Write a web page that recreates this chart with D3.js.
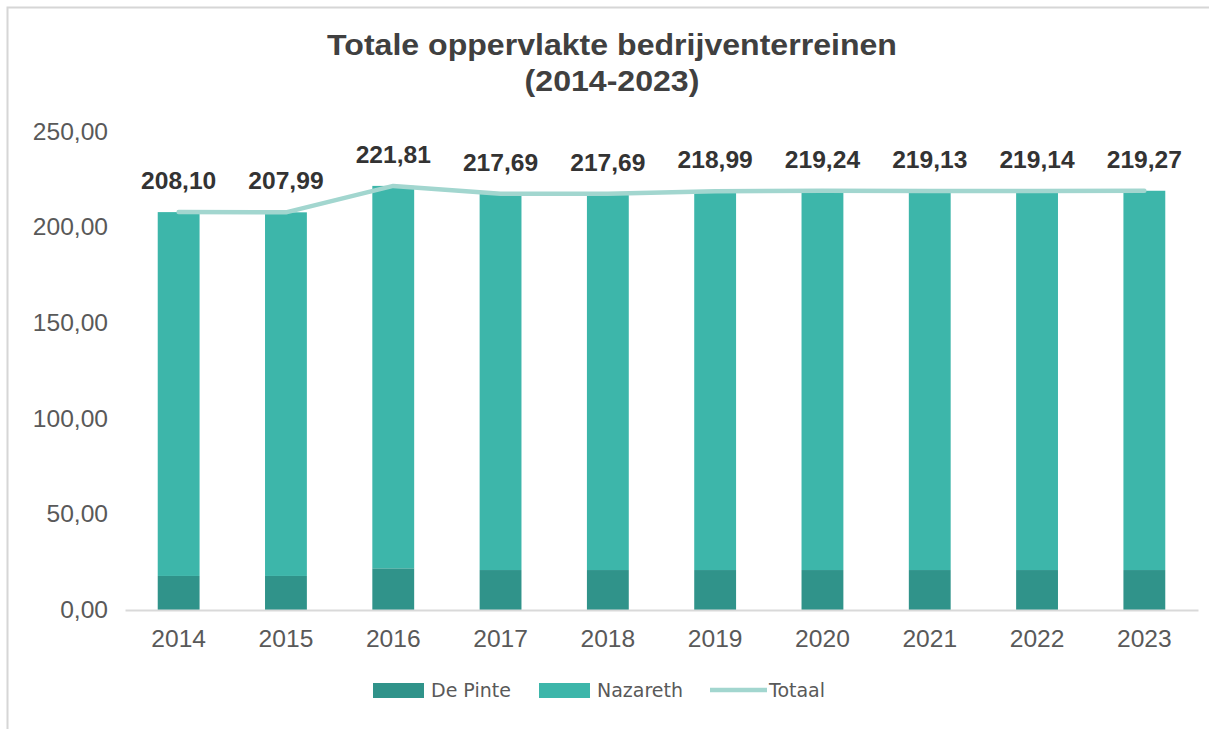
<!DOCTYPE html>
<html>
<head>
<meta charset="utf-8">
<script src="https://cdn.jsdelivr.net/npm/d3@7"></script>
<style>
  html, body { margin: 0; padding: 0; background: #fff; }
  svg { display: block; font-family: "Liberation Sans", Arial, sans-serif; }
</style>
</head>
<body>
<div id="chart"></div>
<script>
(function () {
  'use strict';

  // ── Data ──────────────────────────────────────────────────────────────────
  const YEARS = ['2014', '2015', '2016', '2017', '2018', '2019', '2020', '2021', '2022', '2023'];
  const TOTAAL = [208.10, 207.99, 221.81, 217.69, 217.69, 218.99, 219.24, 219.13, 219.14, 219.27];
  const DE_PINTE = [17.8, 17.8, 21.8, 20.9, 20.9, 20.9, 20.9, 20.9, 20.9, 20.9];
  const NAZARETH = TOTAAL.map((t, i) => +(t - DE_PINTE[i]).toFixed(2));
  const Y_TICKS = [0, 50, 100, 150, 200, 250];

  const COLORS = { pinte: '#30938a', nazareth: '#3db6aa', totaal: '#a2d6cf' };
  const fmt = v => v.toFixed(2).replace('.', ',');

  const width = 1209;
  const height = 729;
  const margin = { top: 132, right: 11, bottom: 119, left: 125 };

  const svg = d3.select('#chart')
    .append('svg')
    .attr('width', width)
    .attr('height', height)
    .attr('viewBox', `0 0 ${width} ${height}`);

  // frame (top + left edges of the pasted chart)
  svg.append('path')
    .attr('d', `M7.5,${height} V7.5 H${width}`)
    .attr('fill', 'none')
    .attr('stroke', '#d6d6d6')
    .attr('stroke-width', 2);

  // ── Title ─────────────────────────────────────────────────────────────────
  // the source picture is a bit stretched sideways, hence the scale
  [['Totale oppervlakte bedrijventerreinen', 55], ['(2014-2023)', 91]].forEach(([t, ty]) => {
    svg.append('text')
      .attr('transform', `translate(612,${ty}) scale(1.07,1)`)
      .attr('text-anchor', 'middle')
      .attr('font-size', 30)
      .attr('font-weight', 700)
      .attr('fill', '#404040')
      .text(t);
  });

  // ── Scales ────────────────────────────────────────────────────────────────
  const x = d3.scaleBand()
    .domain(YEARS)
    .range([margin.left, width - margin.right])
    .paddingInner(0.61)
    .paddingOuter(0.305);

  const y = d3.scaleLinear()
    .domain([0, 250])
    .range([height - margin.bottom, margin.top]);

  // Y axis labels
  svg.append('g')
    .attr('transform', `translate(108,0)`)
    .call(d3.axisLeft(y).tickValues(Y_TICKS).tickSize(0).tickPadding(0).tickFormat(fmt))
    .call(ax => ax.select('.domain').remove())
    .call(ax => ax.selectAll('text')
      .attr('font-size', 23)
      .attr('font-family', '"Liberation Sans", Arial, sans-serif')
      .attr('transform', 'scale(1.07,1)')
      .attr('fill', '#595959'));

  // ── Bars ──────────────────────────────────────────────────────────────────
  const bw = x.bandwidth();
  svg.append('g').selectAll('rect')
    .data(YEARS)
    .join('rect')
    .attr('x', d => x(d))
    .attr('y', (d, i) => y(DE_PINTE[i]))
    .attr('width', bw)
    .attr('height', (d, i) => y(0) - y(DE_PINTE[i]))
    .attr('fill', COLORS.pinte);

  svg.append('g').selectAll('rect')
    .data(YEARS)
    .join('rect')
    .attr('x', d => x(d))
    .attr('y', (d, i) => y(DE_PINTE[i] + NAZARETH[i]))
    .attr('width', bw)
    .attr('height', (d, i) => y(DE_PINTE[i]) - y(DE_PINTE[i] + NAZARETH[i]))
    .attr('fill', COLORS.nazareth);

  // X axis
  svg.append('g')
    .attr('transform', `translate(0,${y(0)})`)
    .call(d3.axisBottom(x).tickSize(0).tickPadding(21))
    .call(ax => ax.select('.domain').attr('stroke', '#d9d9d9').attr('stroke-width', 2))
    .call(ax => ax.selectAll('text')
      .attr('font-size', 23)
      .attr('font-family', '"Liberation Sans", Arial, sans-serif')
      .attr('transform', 'scale(1.07,1)')
      .attr('fill', '#595959'));

  // ── Totaal line ───────────────────────────────────────────────────────────
  const line = d3.line()
    .x((d, i) => x(YEARS[i]) + bw / 2)
    .y(d => y(d));

  svg.append('path')
    .datum(TOTAAL)
    .attr('fill', 'none')
    .attr('stroke', COLORS.totaal)
    .attr('stroke-width', 4.5)
    .attr('stroke-linecap', 'round')
    .attr('stroke-linejoin', 'round')
    .attr('d', line);

  // value labels
  svg.append('g').selectAll('text')
    .data(TOTAAL)
    .join('text')
    .attr('transform', (d, i) => `translate(${x(YEARS[i]) + bw / 2},${y(d) - 23}) scale(1.07,1)`)
    .attr('text-anchor', 'middle')
    .attr('font-size', 23)
    .attr('font-weight', 700)
    .attr('fill', '#333')
    .text(fmt);

  // ── Legend ────────────────────────────────────────────────────────────────
  const legendData = [
    { label: 'De Pinte', color: COLORS.pinte, type: 'rect', x: 373 },
    { label: 'Nazareth', color: COLORS.nazareth, type: 'rect', x: 539 },
    { label: 'Totaal', color: COLORS.totaal, type: 'line', x: 710 }
  ];
  const legend = svg.append('g').attr('transform', 'translate(0,690)');
  legendData.forEach(item => {
    if (item.type === 'rect') {
      legend.append('rect').attr('x', item.x).attr('y', -7)
        .attr('width', 51).attr('height', 15).attr('fill', item.color);
    } else {
      legend.append('line').attr('x1', item.x).attr('x2', item.x + 57)
        .attr('y1', 0).attr('y2', 0)
        .attr('stroke', item.color).attr('stroke-width', 4.5);
    }
    legend.append('text')
      .attr('x', item.x + (item.type === 'rect' ? 58 : 59))
      .attr('y', 7)
      .attr('font-size', 19)
      .attr('font-family', '"DejaVu Sans", sans-serif')
      .attr('fill', '#595959')
      .text(item.label);
  });
})();
</script>
</body>
</html>
